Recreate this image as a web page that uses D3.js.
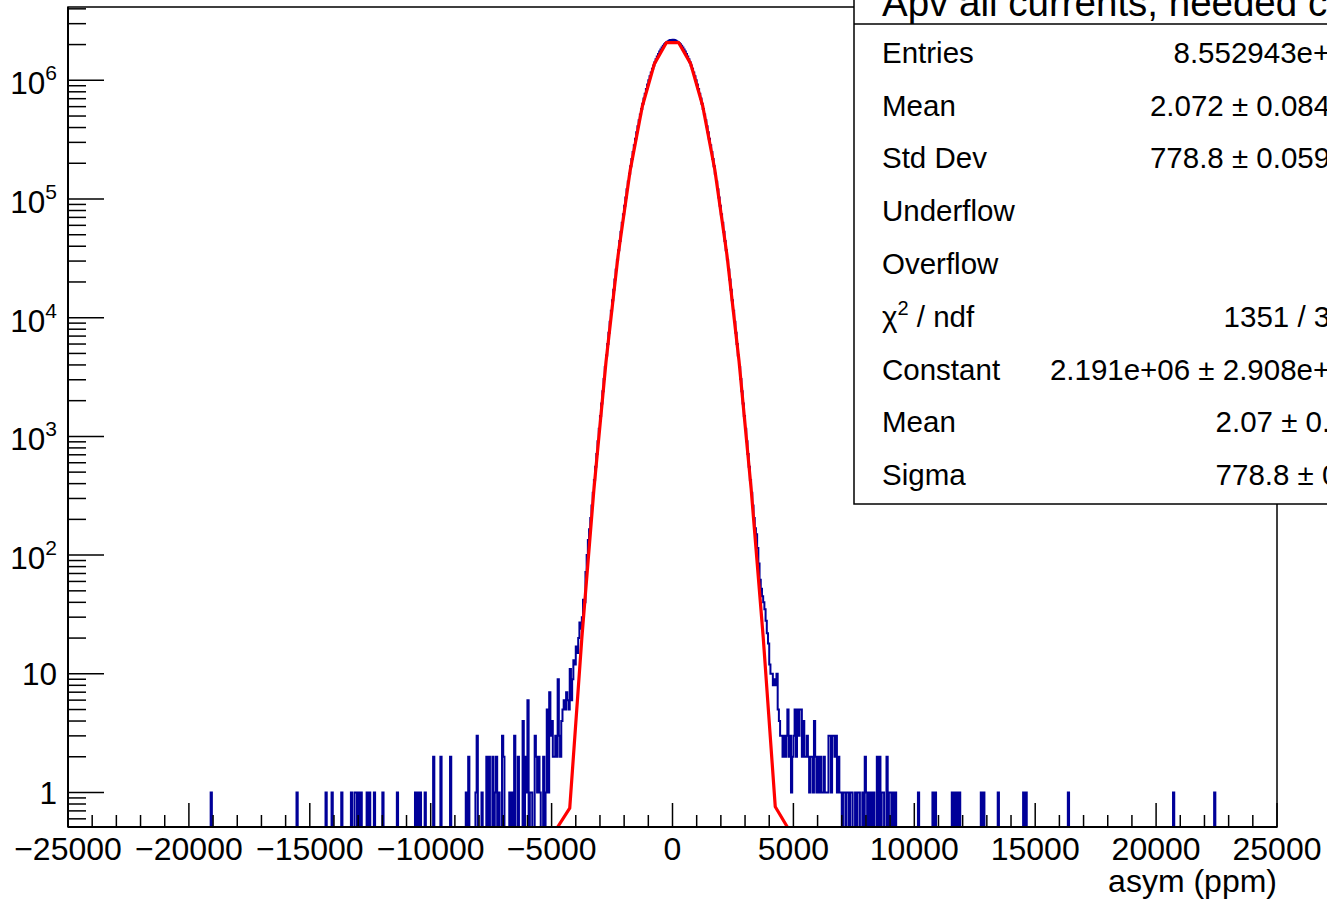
<!DOCTYPE html>
<html>
<head>
<meta charset="utf-8">
<script src="https://cdn.jsdelivr.net/npm/d3@7"></script>
<style>
  html, body { margin: 0; padding: 0; background: #fff; overflow: hidden; }
  svg { display: block; font-family: "Liberation Sans", Arial, Helvetica, sans-serif; }
</style>
</head>
<body>
<svg id="chart" width="1327" height="900"></svg>
<script>
// ---------------- data ----------------
const binWidth = 50;
const xDomain = [-25000, 25000];
const yDomain = [0.5121, 4.145e6];

// core bins, contiguous from -3600 to +3600 (50 ppm bins)
const coreStart = -3600;
const coreCounts = [
  72, 100, 134, 165, 205, 262, 335, 430, 556, 712, 910, 1160, 1486, 1894, 2406, 3044, 3834, 4810, 6006, 7473,
  9262, 11430, 14040, 17190, 20950, 25430, 30740, 37010, 44360, 52960, 62970, 74570, 87940, 103200, 120800, 140700,
  163200, 188500, 216900, 248500, 283500, 322100, 364500, 410800, 461000, 515300, 573600, 635800, 702000, 772100,
  845300, 921600, 1001000, 1082000, 1165000, 1250000, 1335000, 1420000, 1505000, 1588000, 1668000, 1746000, 1819000,
  1888000, 1951000, 2008000, 2058000, 2101000, 2136000, 2163000, 2182000, 2190000,
  2191000, 2182000, 2163000, 2136000, 2101000, 2058000, 2008000, 1951000, 1888000, 1819000, 1746000, 1668000,
  1588000, 1505000, 1420000, 1335000, 1250000, 1165000, 1082000, 1001000, 921600, 845300, 772100, 702000, 635800,
  573600, 515300, 461000, 410800, 364500, 322100, 283500, 248500, 216900, 188500, 163200, 140700, 120800, 103200,
  87940, 74570, 62970, 52960, 44360, 37010, 30740, 25430, 20950, 17190, 14040, 11430, 9262, 7473, 6006, 4810, 3834,
  3044, 2406, 1894, 1486, 1160, 910, 712, 556, 430, 335, 262, 205, 168, 150, 115, 85
];

// left tail bins (lower edge, count)
const leftTailLow = [
  -19100, -15550, -14350, -14100, -13700, -13300, -13150, -13100, -13000, -12900, -12650, -12550, -12350, -12000,
  -11400, -10650, -10550, -10450, -10250, -9900, -9600, -9200, -8550, -8450, -8150, -8100, -7900, -7700, -7600,
  -7450, -7350, -7300, -7200, -7050, -7000, -6750, -6650, -6550, -6400, -6200, -6100, -6050, -6000, -5900, -5850,
  -5700, -5650, -5600, -5550, -5500, -5350, -5250, -5200, -5150, -5100, -5050, -5000, -4950, -4900, -4850, -4800,
  -4750, -4700, -4650, -4600, -4550, -4500, -4450, -4400, -4350, -4300, -4250, -4200, -4150, -4100, -4050, -4000,
  -3950, -3900, -3850, -3800, -3750, -3700, -3650
];
const leftTailCount = [
  1, 1, 1, 1, 1, 1, 1, 1, 1, 1, 1, 1, 1, 1,
  1, 1, 1, 1, 1, 2, 2, 2, 1, 2, 1, 3, 1, 2, 2,
  2, 1, 2, 1, 3, 2, 1, 1, 3, 2, 4, 2, 1, 6, 1, 1,
  3, 2, 1, 2, 1, 2, 1, 5, 1, 7, 3, 4, 2, 2, 3, 2,
  9, 3, 2, 4, 5, 6, 5, 7, 6, 5, 11, 6, 9, 13, 12, 17,
  15, 20, 27, 24, 30, 42, 40
];

// right tail bins (lower edge, count)
const rightTailLow = [
  3600, 3650, 3700, 3750, 3800, 3850, 3900, 3950, 4000, 4050, 4100, 4150, 4200, 4250, 4300, 4350, 4400, 4450,
  4500, 4550, 4600, 4650, 4700, 4750, 4800, 4850, 4900, 4950, 5000, 5050, 5100, 5150, 5200, 5250, 5300, 5350,
  5400, 5450, 5500, 5550, 5600, 5650, 5700, 5750, 5800, 5850, 5900, 5950, 6000, 6050, 6100, 6150, 6200, 6250,
  6300, 6350, 6400, 6450, 6500, 6550, 6600, 6650, 6700, 6750, 6800, 6850, 6900, 6950, 7050, 7100, 7200, 7250,
  7350, 7400, 7550, 7650, 7700, 7850, 7950, 8000, 8100, 8200, 8300, 8450, 8550, 8650, 8700, 8850, 8950, 9000,
  9100, 9200, 10150, 10750, 10850, 11550, 11650, 11750, 11850, 12750, 12850, 13450, 14500, 14600, 16350, 20700,
  22400
];
const rightTailCount = [
  62, 52, 45, 40, 35, 28, 22, 18, 12, 10, 10, 8, 9, 8, 10, 5, 4, 3,
  3, 2, 3, 2, 3, 5, 2, 3, 1, 2, 3, 5, 2, 5, 3, 5, 5, 2,
  4, 2, 2, 3, 2, 1, 2, 2, 1, 4, 2, 1, 2, 1, 2, 1, 1, 2,
  1, 1, 1, 3, 3, 1, 3, 3, 2, 3, 1, 2, 1, 1, 1, 1, 1, 1,
  1, 1, 1, 1, 1, 1, 2, 1, 1, 1, 1, 2, 2, 1, 1, 2, 1, 1,
  1, 1, 1, 1, 1, 1, 1, 1, 1, 1, 1, 1, 1, 1, 1, 1,
  1
];

// gaussian fit curve, evaluated at its 500 ppm drawing points
const fitX = [-4750, -4250, -3750, -3250, -2750, -2250, -1750, -1250, -750, -250,
               250, 750, 1250, 1750, 2250, 2750, 3250, 3750, 4250, 4750];
const fitY = [0.018, 0.737, 19.9, 358, 4257, 33500, 174400, 601600, 1374700, 2079200,
              2082700, 1381600, 606900, 176500, 34000, 4338, 366, 20.5, 0.758, 0.0186];

// y axis decade labels
const yDecades = [0, 1, 2, 3, 4, 5, 6];
const xLabels = [-25000, -20000, -15000, -10000, -5000, 0, 5000, 10000, 15000, 20000, 25000];

// stats box
const statTitle = "Apv all currents, needed cuts";
const statNames = ["Entries", "Mean", "Std Dev", "Underflow", "Overflow", "χ2 / ndf", "Constant", "Mean", "Sigma"];
const statValues = ["8.552943e+07", "2.072 ± 0.08421", "778.8 ± 0.05955", "0", "0", "1351 / 357",
                    "2.191e+06 ± 2.908e+03", "2.07 ± 0.08", "778.8 ± 0.1"];

// ---------------- drawing ----------------
const svg = d3.select("#chart");
const L = 68, R = 1277, T = 7, B = 827;
const x = d3.scaleLinear().domain(xDomain).range([L, R]);
const y = d3.scaleLog().domain(yDomain).range([B, T]);

const nBins = (xDomain[1] - xDomain[0]) / binWidth;
const counts = new Array(nBins).fill(0);
const idx = lo => Math.round((lo - xDomain[0]) / binWidth);
coreCounts.forEach((c, i) => { counts[idx(coreStart + i * binWidth)] = c; });
leftTailLow.forEach((lo, i) => { counts[idx(lo)] = leftTailCount[i]; });
rightTailLow.forEach((lo, i) => { counts[idx(lo)] = rightTailCount[i]; });

svg.append("defs").append("clipPath").attr("id", "frameClip")
  .append("rect").attr("x", L).attr("y", T).attr("width", R - L).attr("height", B - T);

const ymin = yDomain[0];
let d = "";
counts.forEach((c, i) => {
  const lo = xDomain[0] + i * binWidth;
  const yy = y(Math.max(c, ymin)).toFixed(2);
  d += (i === 0 ? `M${x(lo).toFixed(2)},${yy}` : `V${yy}`) + `H${x(lo + binWidth).toFixed(2)}`;
});

const plot = svg.append("g").attr("clip-path", "url(#frameClip)");

svg.append("rect").attr("x", L).attr("y", T).attr("width", R - L).attr("height", B - T)
  .attr("fill", "none").attr("stroke", "#000").attr("stroke-width", 1.5);

plot.append("path").attr("d", d).attr("fill", "none")
  .attr("stroke", "#000099").attr("stroke-width", 2).attr("stroke-linejoin", "miter");

const fitLine = d3.line().x((v, i) => x(fitX[i])).y(v => y(Math.max(v, ymin)));
plot.append("path").attr("d", fitLine(fitY)).attr("fill", "none")
  .attr("stroke", "#ff0000").attr("stroke-width", 3.2).attr("stroke-linejoin", "round");

svg.append("line").attr("x1", L).attr("x2", L).attr("y1", T).attr("y2", B)
  .attr("stroke", "#000").attr("stroke-width", 2);
svg.append("line").attr("x1", L).attr("x2", R).attr("y1", B).attr("y2", B)
  .attr("stroke", "#000").attr("stroke-width", 2);

// x ticks
const axG = svg.append("g");
d3.range(xDomain[0], xDomain[1] + 1, 1000).forEach(v => {
  const major = v % 5000 === 0;
  axG.append("line").attr("x1", x(v)).attr("x2", x(v)).attr("y1", B).attr("y2", B - (major ? 24 : 12))
    .attr("stroke", "#000").attr("stroke-width", 1.5);
});
xLabels.forEach(v => {
  axG.append("text").attr("x", x(v)).attr("y", 860).attr("text-anchor", "middle")
    .attr("font-size", 32).attr("fill", "#000")
    .text(v < 0 ? "\u2212" + Math.abs(v) : String(v));
});
axG.append("text").attr("x", R).attr("y", 892).attr("text-anchor", "end")
  .attr("font-size", 32).attr("fill", "#000").text("asym (ppm)");

// y ticks
y.ticks().forEach(v => {
  const lg = Math.log10(v);
  const major = Math.abs(lg - Math.round(lg)) < 1e-9;
  axG.append("line").attr("x1", L).attr("x2", L + (major ? 36 : 18)).attr("y1", y(v)).attr("y2", y(v))
    .attr("stroke", "#000").attr("stroke-width", 1.5);
});
yDecades.forEach(k => {
  const yy = y(Math.pow(10, k));
  if (k === 0 || k === 1) {
    axG.append("text").attr("x", 57).attr("y", yy + 11).attr("text-anchor", "end")
      .attr("font-size", 31.5).attr("fill", "#000").text(k === 0 ? "1" : "10");
  } else {
    const t = axG.append("text").attr("x", 57).attr("y", yy + 14).attr("text-anchor", "end")
      .attr("font-size", 31.5).attr("fill", "#000");
    t.append("tspan").text("10");
    t.append("tspan").attr("font-size", 21).attr("dy", -14).text(String(k));
  }
});

// stats box
const sb = svg.append("g");
const SX = 854;
sb.append("rect").attr("x", SX).attr("y", -40).attr("width", 600).attr("height", 504 + 40)
  .attr("fill", "#fff").attr("stroke", "#000").attr("stroke-width", 1.5);
sb.append("line").attr("x1", SX).attr("x2", 1400).attr("y1", 24).attr("y2", 24)
  .attr("stroke", "#000").attr("stroke-width", 1.5);
sb.append("text").attr("x", 882).attr("y", 16).attr("font-size", 38.5).attr("fill", "#000").text(statTitle);
statNames.forEach((n, i) => {
  const yy = 62.7 + i * 52.8;
  const t = sb.append("text").attr("x", 882).attr("y", yy).attr("font-size", 29.5).attr("fill", "#000");
  if (n.startsWith("χ2")) {
    t.append("tspan").text("χ");
    t.append("tspan").attr("font-size", 20).attr("dy", -12).text("2");
    t.append("tspan").attr("dy", 12).text(" / ndf");
  } else {
    t.text(n);
  }
  sb.append("text").attr("x", 1363).attr("y", yy).attr("text-anchor", "end")
    .attr("font-size", 29.5).attr("fill", "#000").text(statValues[i]);
});
</script>
</body>
</html>
